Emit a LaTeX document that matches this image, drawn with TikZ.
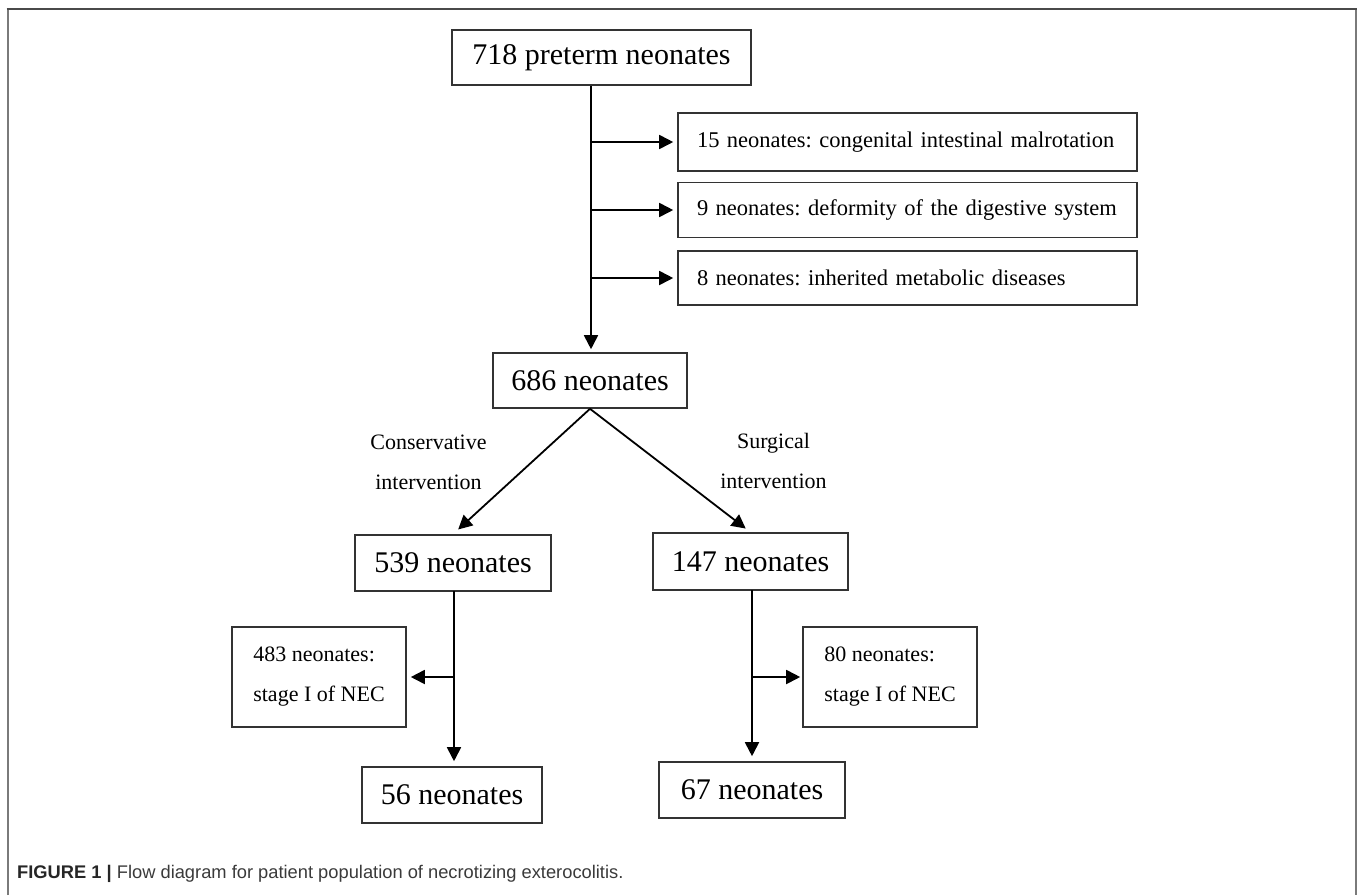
\documentclass[tikz,border=0pt]{standalone}
\usepackage{fontspec}
\setmainfont{Liberation Serif}
\newfontfamily\capfont{Liberation Sans}
\usetikzlibrary{arrows.meta}
\frenchspacing

\definecolor{boxline}{HTML}{333333}
\definecolor{frametop}{HTML}{4A4A4A}
\definecolor{frameside}{HTML}{7A7A7A}
\definecolor{captext}{HTML}{3A3A3A}

\tikzset{
  stagebox/.style={draw=boxline, line width=1.6pt, inner sep=0pt, align=center},
  exclbox/.style={draw=boxline, line width=1.6pt, inner xsep=19pt, inner ysep=0pt,
    text width=421pt, align=left},
  necbox/.style={draw=boxline, line width=1.6pt, inner sep=0pt, align=left,
    minimum width=174pt, minimum height=100pt},
  arr/.style={draw=black, line width=1.8pt, -{Triangle[length=14pt,width=14pt]}},
  bigtxt/.style={font=\fontsize{30}{36}\selectfont},
  midtxt/.style={font=\fontsize{22.5}{28}\selectfont},
  smalltxt/.style={font=\fontsize{22}{40}\selectfont}
}

\begin{document}
\begin{tikzpicture}[x=1pt,y=-1pt]
\useasboundingbox (0,0) rectangle (1358,895);

% outer frame
\draw[frameside, line width=2pt] (7.5,895) -- (7.5,8.5);
\draw[frameside, line width=2pt] (1356,8.5) -- (1356,895);
\draw[frametop, line width=2pt] (6.5,8.5) -- (1357,8.5);

% top and exclusions
\node[stagebox, bigtxt, minimum width=299pt, minimum height=55pt] (n718) at (601.5,57.5) {718 preterm neonates};
\node[exclbox, midtxt, minimum height=58pt] (ex1) at (907.5,142) {15 neonates: congenital intestinal malrotation};
\node[exclbox, midtxt, minimum height=55pt] (ex2) at (907.5,210) {9 neonates: deformity of the digestive system};
\node[exclbox, midtxt, minimum height=54pt] (ex3) at (907.5,278) {8 neonates: inherited metabolic diseases};
\node[stagebox, bigtxt, minimum width=194pt, minimum height=55pt] (n686) at (590,380.5) {686 neonates};

\coordinate (trunk) at (n686.north -| 591,0);
\draw[arr, shorten >=3pt] (n718.south -| trunk) -- (trunk);
\draw[arr, shorten >=4pt] (ex1.west -| trunk) -- (ex1.west);
\draw[arr, shorten >=4pt] (ex2.west -| trunk) -- (ex2.west);
\draw[arr, shorten >=4pt] (ex3.west -| trunk) -- (ex3.west);

% two treatment groups
\node[stagebox, bigtxt, minimum width=196pt, minimum height=56pt] (n539) at (453,563) {539 neonates};
\node[stagebox, bigtxt, minimum width=195pt, minimum height=57pt] (n147) at (750.5,561.5) {147 neonates};
\node[smalltxt, align=center] (lblcons) at (428.5,462) {Conservative\\intervention};
\node[smalltxt, align=center] (lblsurg) at (773.5,461) {Surgical\\intervention};

\draw[arr, shorten >=7pt] (n686.south) -- (n539.north);
\draw[arr, shorten >=6pt] (n686.south) -- (n147.north);

% outcomes
\node[necbox, smalltxt] (n483) at (319,677) {483 neonates:\\stage I of NEC};
\node[necbox, smalltxt] (n80) at (890,677) {80 neonates:\\stage I of NEC};
\node[stagebox, bigtxt, minimum width=180pt, minimum height=56pt] (n56) at (452,795) {56 neonates};
\node[stagebox, bigtxt, minimum width=186pt, minimum height=56pt] (n67) at (752,790) {67 neonates};

\coordinate (lstem) at (454,591);
\coordinate (rstem) at (752,590);
\draw[arr, shorten >=5pt] (lstem) -- (lstem |- n56.north);
\draw[arr, shorten >=4pt] (lstem |- n483.east) -- (n483.east);
\draw[arr, shorten >=5pt] (rstem) -- (rstem |- n67.north);
\draw[arr, shorten >=2pt] (rstem |- n80.west) -- (n80.west);

% caption
\node[anchor=base west, inner sep=0pt, text=captext, font=\capfont\fontsize{18.3}{22}\selectfont] (cap) at (17,878)
  {\textcolor{black!85}{\textbf{FIGURE 1 |}} Flow diagram for patient population of necrotizing exterocolitis.};

\end{tikzpicture}
\end{document}
